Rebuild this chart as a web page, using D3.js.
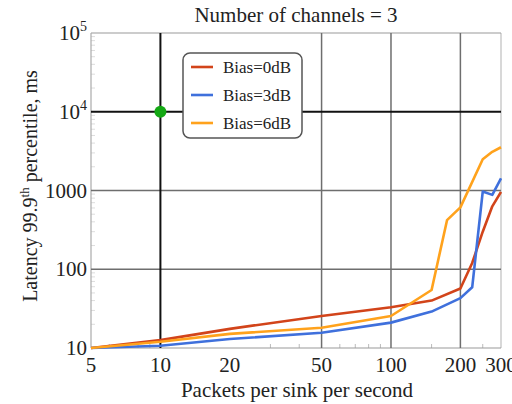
<!DOCTYPE html>
<html>
<head>
<meta charset="utf-8">
<script src="https://cdn.jsdelivr.net/npm/d3@7"></script>
<style>
  body { margin: 0; background: #fff; }
  svg text { font-family: "Liberation Serif", "DejaVu Serif", serif; fill: #222; }
</style>
</head>
<body>
<script>
// data
var seriesNames = ["Bias=0dB", "Bias=3dB", "Bias=6dB"];
var seriesColors = ["#d2441a", "#3f70dc", "#ffa21c"];

var packets0dB = [5, 10, 20, 50, 100, 150, 200, 225, 250, 275, 300];
var latency0dB = [10, 12.6, 17.5, 25.5, 33, 40, 57, 120, 300, 630, 960];

var packets3dB = [5, 10, 20, 50, 100, 150, 200, 225, 250, 275, 300];
var latency3dB = [10, 10.7, 13, 15.6, 21, 29, 43, 59, 970, 880, 1430];

var packets6dB = [5, 10, 20, 50, 100, 150, 175, 200, 250, 275, 300];
var latency6dB = [10, 12, 15.1, 18.1, 25.5, 54.5, 420, 610, 2490, 3100, 3540];

var xTicks = [5, 10, 20, 50, 100, 200, 300];
var yTicks = [10, 100, 1000, 10000, 100000];
var xGridGray = [50, 100, 200];
var xGridBlack = [10];
var yGridGray = [100, 1000];
var yGridBlack = [10000];
var markerPoint = [10, 10000];

var W = 512, H = 404;
var margin = {top: 33, right: 11, bottom: 56, left: 91};

var svg = d3.select("body").append("svg")
    .attr("width", W)
    .attr("height", H);

var x = d3.scaleLog().domain([5, 300]).range([margin.left, W - margin.right]);
var y = d3.scaleLog().domain([10, 100000]).range([H - margin.bottom, margin.top]);

var x0 = x.range()[0], x1 = x.range()[1];
var yb = y.range()[0], yt = y.range()[1];

// minor ticks
var xMinor = [6, 7, 8, 9, 30, 40, 60, 70, 80, 90, 150, 250];
var yMinor = [];
[10, 100, 1000, 10000].forEach(function (d) {
    for (var k = 2; k <= 9; k++) yMinor.push(d * k);
});

svg.append("g").selectAll("line").data(xMinor).enter().append("line")
    .attr("x1", function (d) { return x(d); })
    .attr("x2", function (d) { return x(d); })
    .attr("y1", yb).attr("y2", yb - 4)
    .attr("stroke", "#bbb").attr("stroke-width", 1);

svg.append("g").selectAll("line").data(yMinor).enter().append("line")
    .attr("x1", x0).attr("x2", x0 + 4)
    .attr("y1", function (d) { return y(d); })
    .attr("y2", function (d) { return y(d); })
    .attr("stroke", "#ddd").attr("stroke-width", 1);

// frame
svg.append("line").attr("x1", x1).attr("x2", x1).attr("y1", yt).attr("y2", yb)
    .attr("stroke", "#d8d8d8").attr("stroke-width", 2);
svg.append("line").attr("x1", x0).attr("x2", x1).attr("y1", yt).attr("y2", yt)
    .attr("stroke", "#999").attr("stroke-width", 1.2);
svg.append("line").attr("x1", x0).attr("x2", x0).attr("y1", yt).attr("y2", yb)
    .attr("stroke", "#aaa").attr("stroke-width", 1.2);
svg.append("line").attr("x1", x0).attr("x2", x1).attr("y1", yb).attr("y2", yb)
    .attr("stroke", "#999").attr("stroke-width", 1.2);

// grid
svg.append("g").selectAll("line").data(xGridGray).enter().append("line")
    .attr("x1", function (d) { return x(d); })
    .attr("x2", function (d) { return x(d); })
    .attr("y1", yt).attr("y2", yb)
    .attr("stroke", "#6e6e6e").attr("stroke-width", 1.5);
svg.append("g").selectAll("line").data(yGridGray).enter().append("line")
    .attr("x1", x0).attr("x2", x1)
    .attr("y1", function (d) { return y(d); })
    .attr("y2", function (d) { return y(d); })
    .attr("stroke", "#6e6e6e").attr("stroke-width", 1.5);
svg.append("g").selectAll("line").data(xGridBlack).enter().append("line")
    .attr("x1", function (d) { return x(d); })
    .attr("x2", function (d) { return x(d); })
    .attr("y1", yt).attr("y2", yb)
    .attr("stroke", "#111").attr("stroke-width", 2);
svg.append("g").selectAll("line").data(yGridBlack).enter().append("line")
    .attr("x1", x0).attr("x2", x1)
    .attr("y1", function (d) { return y(d); })
    .attr("y2", function (d) { return y(d); })
    .attr("stroke", "#111").attr("stroke-width", 2);

// lines
var series = [
    {px: packets0dB, ly: latency0dB},
    {px: packets3dB, ly: latency3dB},
    {px: packets6dB, ly: latency6dB}
];
var line = d3.line()
    .x(function (d) { return x(d[0]); })
    .y(function (d) { return y(d[1]); });

var plot = svg.append("g");
plot.append("clipPath").attr("id", "clip").append("rect")
    .attr("x", x0).attr("y", yt).attr("width", x1 - x0 + 1).attr("height", yb - yt + 2);
series.forEach(function (s, i) {
    plot.append("path")
        .datum(d3.zip(s.px, s.ly))
        .attr("clip-path", "url(#clip)")
        .attr("fill", "none")
        .attr("stroke", seriesColors[i])
        .attr("stroke-width", 2.6)
        .attr("stroke-linejoin", "round")
        .attr("d", line);
});

// green marker
svg.append("circle")
    .attr("cx", x(markerPoint[0])).attr("cy", y(markerPoint[1]))
    .attr("r", 6).attr("fill", "#14a814");

// x tick labels (the last one runs off the edge, as in the original)
svg.append("g").selectAll("text").data(xTicks).enter().append("text")
    .attr("x", function (d) { return x(d); })
    .attr("y", yb + 24)
    .attr("text-anchor", "middle")
    .attr("font-size", 21)
    .text(function (d) { return d; });

// y tick labels
var yl = svg.append("g").selectAll("text").data(yTicks).enter().append("text")
    .attr("x", x0 - 4)
    .attr("y", function (d) { return y(d) + 7; })
    .attr("text-anchor", "end")
    .attr("font-size", 21);
yl.each(function (d) {
    var t = d3.select(this);
    if (d < 10000) {
        t.text(d);
    } else {
        t.append("tspan").text("10");
        t.append("tspan").attr("dy", -9).attr("font-size", 14).text(Math.round(Math.log10(d)));
    }
});

// title
svg.append("text")
    .attr("x", 296).attr("y", 22)
    .attr("text-anchor", "middle")
    .attr("font-size", 21)
    .text("Number of channels = 3");

// x label
svg.append("text")
    .attr("x", 297).attr("y", 397)
    .attr("text-anchor", "middle")
    .attr("font-size", 21)
    .text("Packets per sink per second");

// y label
var ylab = svg.append("text")
    .attr("transform", "translate(37,186) rotate(-90)")
    .attr("text-anchor", "middle")
    .attr("font-size", 20);
ylab.append("tspan").text("Latency 99.9");
ylab.append("tspan").attr("dy", -8).attr("font-size", 13).text("th");
ylab.append("tspan").attr("dy", 8).text(" percentile, ms");

// legend
var lg = svg.append("g").attr("transform", "translate(183,53)");
lg.append("rect")
    .attr("width", 119).attr("height", 85)
    .attr("rx", 7).attr("ry", 7)
    .attr("fill", "#fff").attr("stroke", "#555").attr("stroke-width", 1.5);
seriesNames.forEach(function (name, i) {
    var gy = 14 + i * 28;
    lg.append("line")
        .attr("x1", 8).attr("x2", 30).attr("y1", gy).attr("y2", gy)
        .attr("stroke", seriesColors[i]).attr("stroke-width", 2.6);
    lg.append("text")
        .attr("x", 40).attr("y", gy + 6)
        .attr("font-size", 17)
        .text(name);
});
</script>
</body>
</html>
